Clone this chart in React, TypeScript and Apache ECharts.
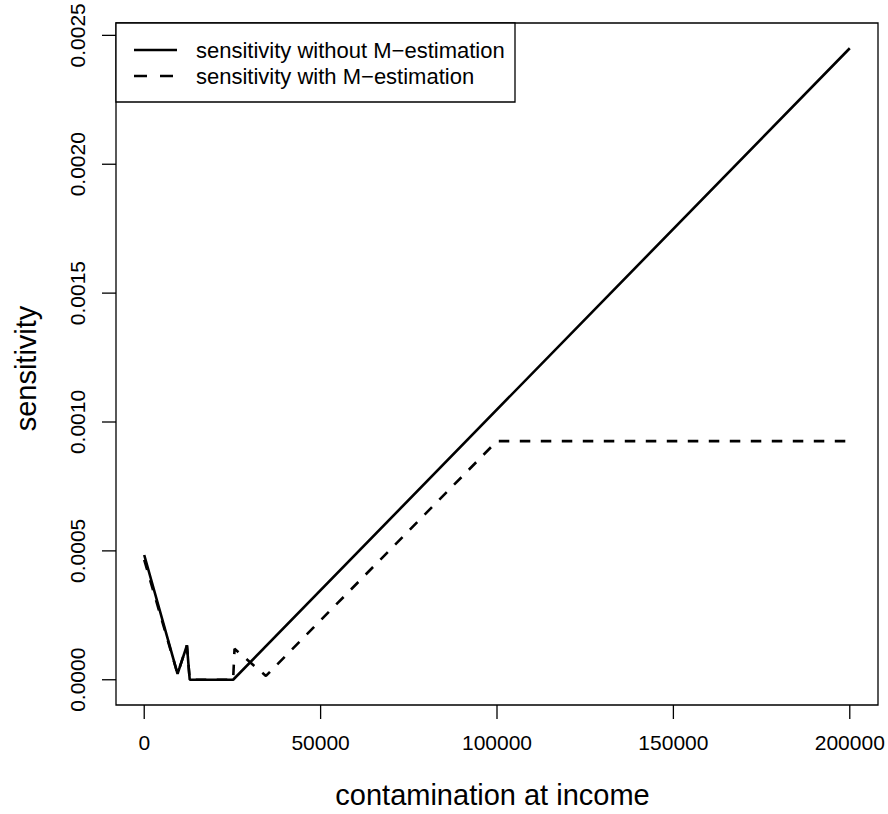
import { useEffect, useRef } from "react";
import * as echarts from "echarts";

const incomeSolid = [0, 9450, 12100, 12900, 25200, 200000];
const sensSolid = [0.000484, 0.000023, 0.000133, 0, 0, 0.00245];
const incomeDashed = [0, 9450, 12100, 12900, 25200, 25600, 34500, 100000, 200000];
const sensDashed = [0.000465, 0.000023, 0.000133, 0, 0, 0.00012, 0.000015, 0.000926, 0.000926];
const xTicks = [0, 50000, 100000, 150000, 200000];
const yTicks = [0, 0.0005, 0.001, 0.0015, 0.002, 0.0025];
const seriesNames = ["sensitivity without M\u2212estimation", "sensitivity with M\u2212estimation"];
const xTitle = "contamination at income";
const yTitle = "sensitivity";

const FONT = "'Liberation Sans', Arial, Helvetica, sans-serif";

function padRange(values: number[]): [number, number] {
  const mn = Math.min(...values);
  const mx = Math.max(...values);
  const d = (mx - mn) * 0.04;
  return [mn - d, mx + d];
}

export default function App() {
  const ref = useRef<HTMLDivElement>(null);
  useEffect(() => {
    if (!ref.current) return;
    const chart = echarts.init(ref.current, null, { renderer: "svg" });
    const [xmin, xmax] = padRange([...incomeSolid, ...incomeDashed]);
    const [ymin, ymax] = padRange([...sensSolid, ...sensDashed]);
    const lw = 2.6;
    const dash = [10.5, 10.5];
    const tickLen = 14;
    const tickW = 1.3;
    const extra = 5;
    const boxLeft = 116;
    const boxTop = 23;
    const boxW = 762;
    const boxH = 683;
    const xs = (xmax - xmin) / boxW;
    const ys = (ymax - ymin) / boxH;
    const gxMin = xmin - tickLen * xs;
    const gxMax = xmax + extra * xs;
    const gyMin = ymin - tickLen * ys;
    const gyMax = ymax + extra * ys;

    chart.setOption({
      animation: false,
      backgroundColor: "#fff",
      grid: {
        left: boxLeft - tickLen,
        right: 888 - (boxLeft + boxW) - extra,
        top: boxTop - extra,
        bottom: 814 - (boxTop + boxH) - tickLen,
        show: false,
      },
      xAxis: {
        type: "value",
        min: gxMin,
        max: gxMax,
        name: xTitle,
        nameLocation: "middle",
        nameGap: 61,
        nameTextStyle: { fontFamily: FONT, fontSize: 29, color: "#000" },
        axisLine: { show: false, onZero: false },
        splitLine: { show: false },
        axisTick: { show: false },
        axisLabel: {
          customValues: xTicks,
          margin: 13,
          fontFamily: FONT,
          fontSize: 21,
          color: "#000",
          formatter: (v: number) => String(v),
        },
      },
      yAxis: {
        type: "value",
        min: gyMin,
        max: gyMax,
        name: yTitle,
        nameLocation: "middle",
        nameGap: 62,
        nameTextStyle: { fontFamily: FONT, fontSize: 29, color: "#000" },
        axisLine: { show: false, onZero: false },
        splitLine: { show: false },
        axisTick: { show: false },
        axisLabel: {
          customValues: yTicks,
          rotate: 90,
          margin: 14,
          fontFamily: FONT,
          fontSize: 21,
          color: "#000",
          formatter: (v: number) => v.toFixed(4),
        },
      },
      series: [
        {
          name: seriesNames[0],
          type: "line",
          symbol: "none",
          data: incomeSolid.map((x, i) => [x, sensSolid[i]]),
          lineStyle: { color: "#000", width: lw, type: "solid" },
          z: 2,
        },
        {
          name: seriesNames[1],
          type: "line",
          symbol: "none",
          data: incomeDashed.map((x, i) => [x, sensDashed[i]]),
          lineStyle: { color: "#000", width: lw, type: dash, cap: "butt" },
          z: 2,
        },
        {
          type: "custom",
          name: "box",
          silent: true,
          clip: false,
          z: 3,
          encode: { x: [0, 2], y: [1, 3] },
          data: [[xmin, ymin, xmax, ymax]],
          renderItem: (_p: any, api: any) => {
            const a = api.coord([api.value(0), api.value(3)]);
            const b = api.coord([api.value(2), api.value(1)]);
            return {
              type: "rect",
              shape: { x: a[0], y: a[1], width: b[0] - a[0], height: b[1] - a[1] },
              style: { fill: "none", stroke: "#000", lineWidth: 1.3 },
            };
          },
        },
        {
          type: "custom",
          name: "xticks",
          silent: true,
          clip: false,
          z: 3,
          encode: { x: 0, y: 1 },
          data: xTicks.map((v) => [v, ymin]),
          renderItem: (_p: any, api: any) => {
            const p = api.coord([api.value(0), api.value(1)]);
            return {
              type: "rect",
              shape: { x: p[0] - tickW / 2, y: p[1], width: tickW, height: tickLen },
              style: { fill: "#000" },
            };
          },
        },
        {
          type: "custom",
          name: "yticks",
          silent: true,
          clip: false,
          z: 3,
          encode: { x: 0, y: 1 },
          data: yTicks.map((v) => [xmin, v]),
          renderItem: (_p: any, api: any) => {
            const p = api.coord([api.value(0), api.value(1)]);
            return {
              type: "rect",
              shape: { x: p[0] - tickLen, y: p[1] - tickW / 2, width: tickLen, height: tickW },
              style: { fill: "#000" },
            };
          },
        },
      ],
      graphic: [
        {
          type: "rect",
          shape: { x: 116, y: 23, width: 399, height: 79 },
          style: { fill: "#fff", stroke: "#000", lineWidth: 1.3 },
          z: 10,
        },
        {
          type: "line",
          shape: { x1: 134, y1: 50, x2: 177, y2: 50 },
          style: { stroke: "#000", lineWidth: lw },
          z: 11,
        },
        {
          type: "line",
          shape: { x1: 134, y1: 76, x2: 177, y2: 76 },
          style: { stroke: "#000", lineWidth: lw, lineDash: [13, 13] },
          z: 11,
        },
        {
          type: "text",
          x: 196,
          y: 50,
          style: {
            text: seriesNames[0],
            fontFamily: FONT,
            fontSize: 22,
            fill: "#000",
            verticalAlign: "middle",
            align: "left",
          },
          z: 11,
        },
        {
          type: "text",
          x: 196,
          y: 76,
          style: {
            text: seriesNames[1],
            fontFamily: FONT,
            fontSize: 22,
            fill: "#000",
            verticalAlign: "middle",
            align: "left",
          },
          z: 11,
        },
      ],
    });

    return () => chart.dispose();
  }, []);
  return (
    <div
      ref={ref}
      style={{ position: "absolute", left: 0, top: 0, width: 888, height: 814 }}
    />
  );
}
